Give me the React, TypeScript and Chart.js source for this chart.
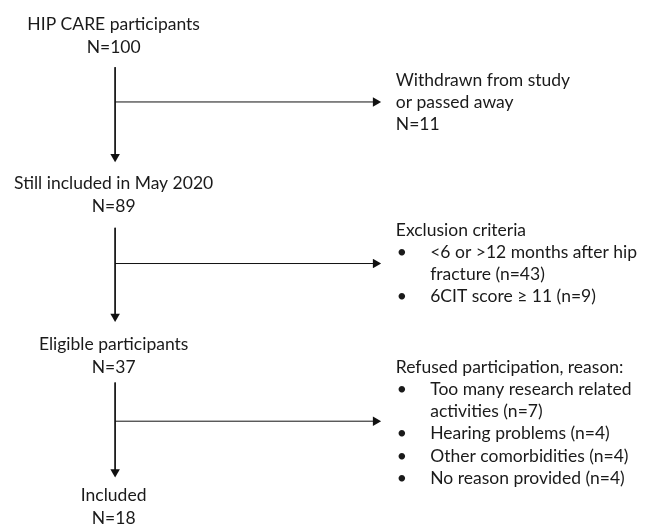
import React, { useEffect, useRef } from "react";
import { Chart, registerables } from "chart.js";

Chart.register(...registerables);

// ---------- Data ----------
const stageLabels = [
  "HIP CARE participants",
  "Still included in May 2020",
  "Eligible participants",
  "Included",
];
const stageCounts = [100, 89, 37, 18];

const withdrawnLines = ["Withdrawn from study", "or passed away"];
const withdrawnCount = 11;

const exclusionTitle = "Exclusion criteria";
const exclusionReasons = ["<6 or >12 months after hip fracture", "6CIT score \u2265 11"];
const exclusionCounts = [43, 9];

const refusalTitle = "Refused participation, reason:";
const refusalReasons = [
  "Too many research related activities",
  "Hearing problems",
  "Other comorbidities",
  "No reason provided",
];
const refusalCounts = [7, 4, 4, 4];

// ---------- Layout (scale units) ----------
const X_MAX = 651;
const Y_MAX = 530;
const STAGE_X = 110;
const FLOW_X = 111.5;
const SIDE_X = 397;
const BULLET_X = 398;
const BULLET_TEXT_X = 432;
const LINE_H = 22.7;
const STAGE_LINE_H = 23;
const stageY = [25, 187.5, 352, 506.5];
const flowTop = [63, 227, 385];
const flowTip = [160, 323, 482];
const branchY = [98.5, 263.5, 424.5];
const BRANCH_TIP = 382;
const sideY = [82, 235, 375];
const HEAD_R = 5.5;

const FONT = "17.5px Lato";
const TEXT_COLOR = "#1a1a1a";
const LINE_COLOR = "#111";

function wrap(ctx: CanvasRenderingContext2D, text: string, maxW: number): string[] {
  const words = text.split(" ");
  const lines: string[] = [];
  let cur = "";
  for (const w of words) {
    const t = cur ? cur + " " + w : w;
    if (cur && ctx.measureText(t).width > maxW) {
      lines.push(cur);
      cur = w;
    } else cur = t;
  }
  if (cur) lines.push(cur);
  return lines;
}

const textPlugin = {
  id: "flowText",
  afterDatasetsDraw(chart: any) {
    const { ctx } = chart;
    const sx = chart.scales.x;
    const sy = chart.scales.y;
    const px = (v: number) => sx.getPixelForValue(v);
    const py = (v: number) => sy.getPixelForValue(v);
    ctx.save();
    ctx.font = FONT;
    ctx.fillStyle = TEXT_COLOR;
    ctx.textBaseline = "alphabetic";

    // stages
    ctx.textAlign = "center";
    stageLabels.forEach((lab, i) => {
      ctx.fillText(lab, px(STAGE_X), py(stageY[i]));
      ctx.fillText("N=" + stageCounts[i], px(STAGE_X), py(stageY[i] + STAGE_LINE_H));
    });

    ctx.textAlign = "left";
    // withdrawn
    let yy = sideY[0];
    withdrawnLines.forEach((l) => {
      ctx.fillText(l, px(SIDE_X), py(yy));
      yy += LINE_H;
    });
    ctx.fillText("N=" + withdrawnCount, px(SIDE_X), py(yy));

    const maxW = px(X_MAX) - px(BULLET_TEXT_X) - 2;
    const bulletBlock = (title: string, reasons: string[], counts: number[], y0: number) => {
      let y = y0;
      ctx.fillText(title, px(SIDE_X), py(y));
      y += LINE_H;
      reasons.forEach((r, i) => {
        const lines = wrap(ctx, `${r} (n=${counts[i]})`, maxW);
        ctx.fillText("\u2022", px(BULLET_X), py(y));
        lines.forEach((l) => {
          ctx.fillText(l, px(BULLET_TEXT_X), py(y));
          y += LINE_H;
        });
      });
    };
    bulletBlock(exclusionTitle, exclusionReasons, exclusionCounts, sideY[1]);
    bulletBlock(refusalTitle, refusalReasons, refusalCounts, sideY[2]);
    ctx.restore();
  },
};

export default function App() {
  const ref = useRef<HTMLCanvasElement | null>(null);
  useEffect(() => {
    document.body.style.margin = "0";
    if (!ref.current) return;
    const segs: any[] = [];
    flowTop.forEach((top, i) => {
      segs.push({
        data: [
          { x: FLOW_X, y: top },
          { x: FLOW_X, y: flowTip[i] - HEAD_R },
        ],
      });
      segs.push({
        data: [
          { x: FLOW_X, y: branchY[i] },
          { x: BRANCH_TIP - HEAD_R, y: branchY[i] },
        ],
      });
    });
    const lineSets = segs.map((s) => ({
      ...s,
      showLine: true,
      borderColor: LINE_COLOR,
      borderWidth: 1,
      pointRadius: 0,
      fill: false,
    }));
    const heads: { x: number; y: number }[] = [];
    const rots: number[] = [];
    flowTip.forEach((t, i) => {
      heads.push({ x: FLOW_X, y: t - HEAD_R });
      rots.push(180);
      heads.push({ x: BRANCH_TIP - HEAD_R, y: branchY[i] });
      rots.push(90);
    });
    const chart = new Chart(ref.current, {
      type: "scatter",
      data: {
        datasets: [
          ...lineSets,
          {
            data: heads,
            pointStyle: "triangle",
            pointRotation: rots,
            pointRadius: HEAD_R,
            pointBackgroundColor: LINE_COLOR,
            pointBorderColor: LINE_COLOR,
            pointBorderWidth: 0,
            showLine: false,
          },
        ],
      },
      options: {
        animation: false,
        responsive: true,
        maintainAspectRatio: false,
        layout: { padding: 0 },
        plugins: { legend: { display: false }, tooltip: { enabled: false } },
        events: [],
        scales: {
          x: { type: "linear", min: 0, max: X_MAX, display: false },
          y: { type: "linear", min: 0, max: Y_MAX, reverse: true, display: false },
        },
      },
      plugins: [textPlugin],
    } as any);
    return () => chart.destroy();
  }, []);
  return (
    <div style={{ position: "relative", width: X_MAX, height: Y_MAX, background: "#fff" }}>
      <canvas ref={ref} />
    </div>
  );
}
